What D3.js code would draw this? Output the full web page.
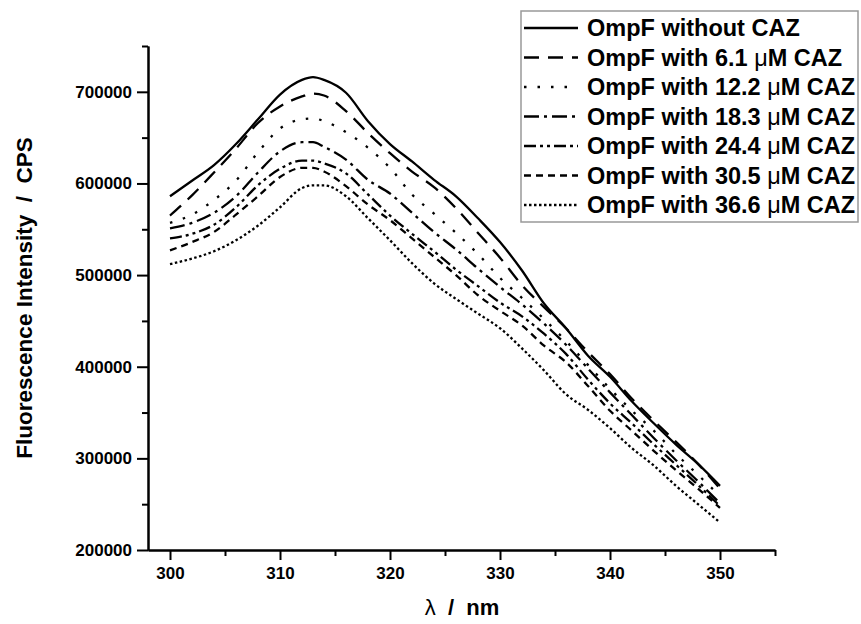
<!DOCTYPE html>
<html>
<head>
<meta charset="utf-8">
<script src="https://cdn.jsdelivr.net/npm/d3@7"></script>
<style>
  body { margin: 0; background: #fff; }
  text { font-family: "Liberation Sans", Arial, sans-serif; font-weight: bold; fill: #000; white-space: pre; }
</style>
</head>
<body>
<svg class="chart" width="861" height="624"></svg>
<script>
// emission wavelength, nm
var wavelength = [300, 302, 304, 306, 308, 310, 312, 313, 314, 316, 318, 320, 322, 324,
                  326, 328, 330, 332, 334, 336, 338, 340, 342, 344, 346, 348, 350];

// fluorescence intensity (CPS)
var noCaz  = [586000, 603000, 620000, 643000, 670000, 697000, 713000, 716000, 713000, 699000, 668000, 643000, 624000, 604000,
              586000, 562000, 536000, 505000, 469000, 442000, 412000, 389000, 362000, 338000, 315000, 294000, 270000];
var caz6_1 = [565000, 587000, 612000, 638000, 666000, 684000, 695000, 698000, 696000, 679000, 655000, 633000, 613000, 596000,
              573000, 546000, 519000, 489000, 465000, 442000, 416000, 392000, 365000, 341000, 318000, 294000, 267000];
var caz12_2 = [557000, 566000, 582000, 603000, 634000, 660000, 670000, 671000, 668000, 656000, 639000, 617000, 588000, 567000,
               546000, 523000, 497000, 475000, 452000, 428000, 402000, 376000, 352000, 330000, 305000, 282000, 259000];
var caz18_3 = [551000, 557000, 568000, 586000, 612000, 635000, 645000, 645000, 640000, 626000, 604000, 589000, 568000, 547000,
               528000, 507000, 487000, 468000, 447000, 424000, 398000, 372000, 347000, 322000, 298000, 275000, 251000];
var caz24_4 = [540000, 545000, 555000, 574000, 598000, 616000, 625000, 625000, 622000, 611000, 588000, 565000, 545000, 526000,
               506000, 488000, 470000, 455000, 436000, 414000, 386000, 360000, 338000, 315000, 293000, 271000, 248000];
var caz30_5 = [527000, 536000, 547000, 566000, 586000, 607000, 617000, 617000, 613000, 597000, 577000, 560000, 540000, 520000,
               500000, 478000, 461000, 445000, 423000, 405000, 379000, 352000, 330000, 308000, 287000, 267000, 246000];
var caz36_6 = [512000, 518000, 526000, 538000, 554000, 574000, 595000, 598000, 598000, 586000, 562000, 538000, 513000, 491000,
               474000, 458000, 442000, 420000, 396000, 370000, 353000, 333000, 311000, 292000, 270000, 250000, 230000];

var seriesNames = ["without CAZ", "with 6.1 ", "with 12.2 ", "with 18.3 ", "with 24.4 ", "with 30.5 ", "with 36.6 "];
var seriesValues = [noCaz, caz6_1, caz12_2, caz18_3, caz24_4, caz30_5, caz36_6];

var xTicks = [300, 310, 320, 330, 340, 350];
var xMinor = [305, 315, 325, 335, 345, 355];
var yTicks = [200000, 300000, 400000, 500000, 600000, 700000];
var yMinor = [250000, 350000, 450000, 550000, 650000, 750000];

// line styles per series
var dashes = [null, "15,9", "2.5,11", "15,5,3,5", "12,4,3,4,3,4", "7,5", "2.5,2.5"];

var svg = d3.select(".chart");

var x = d3.scaleLinear().domain([298, 355]).range([148, 775]);
var y = d3.scaleLinear().domain([200000, 750000]).range([550, 46]);

// minor ticks first, then the labelled axis on top
svg.append("g")
    .attr("transform", "translate(0,550)")
    .call(d3.axisBottom(x).tickValues(xMinor).tickSize(6).tickSizeOuter(0).tickFormat(""));
svg.append("g")
    .attr("transform", "translate(148,0)")
    .call(d3.axisLeft(y).tickValues(yMinor).tickSize(6).tickSizeOuter(0).tickFormat(""));

svg.append("g")
    .attr("transform", "translate(0,550)")
    .call(d3.axisBottom(x).tickValues(xTicks).tickSize(10).tickSizeOuter(0).tickPadding(7)
      .tickFormat(d3.format("d")));
svg.append("g")
    .attr("transform", "translate(148,0)")
    .call(d3.axisLeft(y).tickValues(yTicks).tickSize(11).tickSizeOuter(0).tickPadding(5)
      .tickFormat(d3.format("d")));

svg.selectAll(".domain, .tick line")
    .attr("stroke", "#000")
    .attr("stroke-width", 2);
svg.selectAll(".tick text")
    .attr("font-size", 17)
    .attr("font-family", null);

// curves
var line = d3.line()
    .x(function(d, i) { return x(wavelength[i]); })
    .y(function(d) { return y(d); })
    .curve(d3.curveMonotoneX);

svg.selectAll(".curve")
    .data(seriesValues)
  .enter().append("path")
    .attr("class", "curve")
    .attr("d", line)
    .attr("fill", "none")
    .attr("stroke", "#000")
    .attr("stroke-width", 2.3)
    .attr("stroke-dasharray", function(d, i) { return dashes[i]; });

// axis titles
svg.append("text")
    .attr("transform", "translate(32,298) rotate(-90)")
    .attr("text-anchor", "middle")
    .attr("font-size", 22.5)
    .text("Fluorescence Intensity  /  CPS");

var xTitle = svg.append("text")
    .attr("x", 462)
    .attr("y", 615)
    .attr("text-anchor", "middle")
    .attr("font-size", 22);
xTitle.append("tspan").attr("font-weight", "normal").text("\u03bb");
xTitle.append("tspan").text("  /  nm");

// legend
var legend = svg.append("g");
legend.append("rect")
    .attr("x", 521).attr("y", 11)
    .attr("width", 337).attr("height", 211)
    .attr("fill", "#fff")
    .attr("stroke", "#999")
    .attr("stroke-width", 1.5);

var row = legend.selectAll(".row")
    .data(seriesNames)
  .enter().append("g")
    .attr("class", "row")
    .attr("transform", function(d, i) { return "translate(0," + (28 + i * 29.5) + ")"; });

row.append("line")
    .attr("x1", 524).attr("x2", 578)
    .attr("stroke", "#000")
    .attr("stroke-width", 2.3)
    .attr("stroke-dasharray", function(d, i) { return dashes[i]; });

var label = row.append("text")
    .attr("x", 587)
    .attr("dy", "0.36em")
    .attr("font-size", 23.5);
label.append("tspan").text(function(d) { return "OmpF " + d; });
label.filter(function(d, i) { return i > 0; }).append("tspan").attr("font-weight", "normal").text("\u03bc");
label.filter(function(d, i) { return i > 0; }).append("tspan").text("M CAZ");
</script>
</body>
</html>
